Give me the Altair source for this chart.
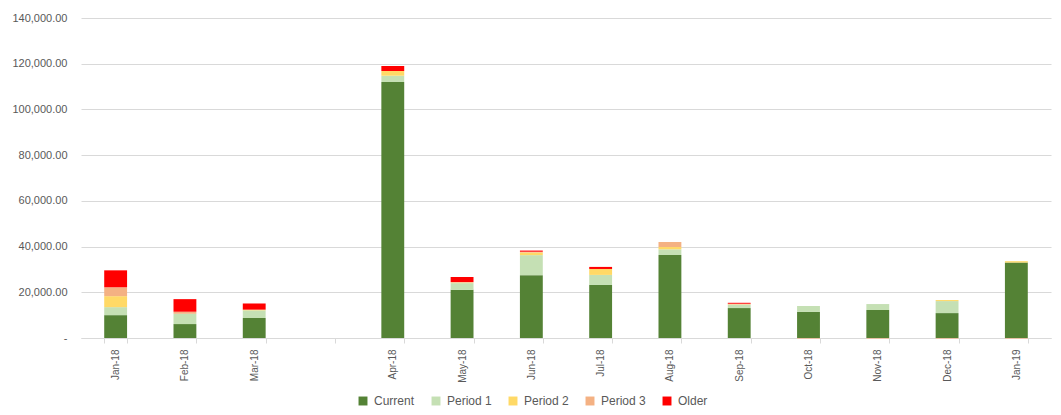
import altair as alt
import pandas as pd

months = ["Jan-18", "Feb-18", "Mar-18", "Apr-18", "May-18", "Jun-18", "Jul-18",
          "Aug-18", "Sep-18", "Oct-18", "Nov-18", "Dec-18", "Jan-19"]
axis_categories = ["Jan-18", "Feb-18", "Mar-18", " ", "Apr-18", "May-18", "Jun-18",
                   "Jul-18", "Aug-18", "Sep-18", "Oct-18", "Nov-18", "Dec-18", "Jan-19"]

current = [10000, 6100, 8750, 112000, 21100, 27500, 23200, 36300, 13100, 11400, 12250, 10900, 33000]
period_1 = [3500, 4500, 3350, 2750, 2900, 8750, 4400, 2500, 1500, 2600, 2600, 5250, 0]
period_2 = [4800, 0, 300, 2050, 250, 1200, 2600, 1000, 150, 0, 0, 450, 600]
period_3 = [3900, 900, 0, 0, 250, 300, 0, 2200, 250, -250, -250, -250, -250]
older = [7400, 5500, 2700, 2200, 2200, 500, 900, 0, 400, 0, 0, 0, 0]

series_names = ["Current", "Period 1", "Period 2", "Period 3", "Older"]
series_colors = ["#548235", "#C5E0B4", "#FFD966", "#F4B183", "#FF0000"]
series_values = [current, period_1, period_2, period_3, older]

rows = []
for idx, (name, vals) in enumerate(zip(series_names, series_values)):
    for m, v in zip(months, vals):
        rows.append({"month": m, "series": name, "value": v, "order": idx})
df = pd.DataFrame(rows)

font = "Liberation Sans"
grey = "#595959"

chart = alt.Chart(df).mark_bar().encode(
    x=alt.X("month:N",
            scale=alt.Scale(domain=axis_categories, paddingInner=0.67, paddingOuter=0.335),
            axis=alt.Axis(title=None, labelAngle=270, tickBand="extent", grid=False,
                          domainColor="#d9d9d9", tickColor="#d9d9d9", tickSize=5,
                          labelColor=grey, labelFontSize=10, labelFont=font,
                          labelPadding=6)),
    y=alt.Y("value:Q", stack="zero",
            scale=alt.Scale(domain=[0, 140000], nice=False),
            axis=alt.Axis(title=None, values=[0, 20000, 40000, 60000, 80000, 100000, 120000, 140000],
                          labelExpr="datum.value == 0 ? '-' : format(datum.value, ',.2f')",
                          domain=False, ticks=False, gridColor="#d9d9d9",
                          labelColor=grey, labelFontSize=11, labelFont=font,
                          labelPadding=14)),
    color=alt.Color("series:N",
                    scale=alt.Scale(domain=series_names, range=series_colors),
                    legend=alt.Legend(title=None, orient="none", direction="horizontal",
                                      legendX=276, legendY=377, symbolType="square",
                                      symbolSize=80, symbolStrokeWidth=0,
                                      labelFontSize=12, labelFont=font, labelColor=grey,
                                      columnPadding=15, labelOffset=5, padding=0)),
    order=alt.Order("order:Q", sort="ascending"),
).properties(
    width=970,
    height=320,
    autosize=alt.AutoSizeParams(type="none"),
    padding={"left": 73, "top": 10, "right": 2, "bottom": 69},
).configure_view(stroke=None)

chart.save("out.html", embed_options={"renderer": "svg", "actions": False})
